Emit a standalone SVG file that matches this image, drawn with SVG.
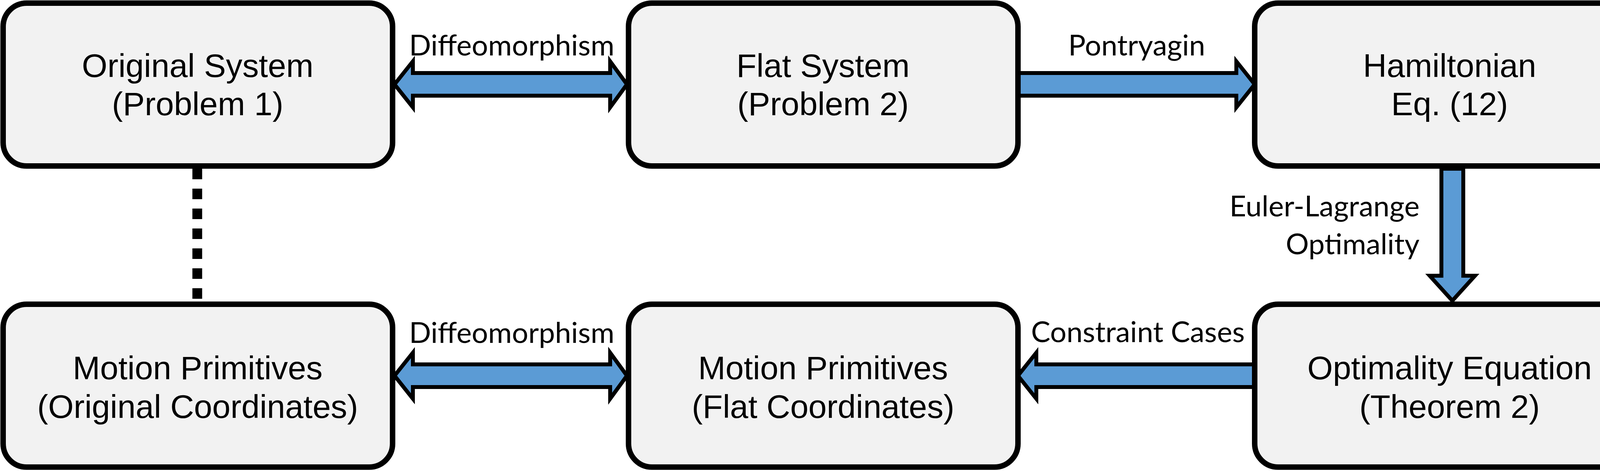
<svg xmlns="http://www.w3.org/2000/svg" width="4225" height="1206" viewBox="0 0 4225 1206">
<style>
.box{fill:#f2f2f2;stroke:#000;stroke-width:14}
.bt{font-family:"Liberation Sans Narrow","Liberation Sans",Arial,sans-serif;font-size:84px;text-anchor:middle;fill:#000}
.lb{font-family:Lato,"Open Sans","Liberation Sans",sans-serif;font-size:74px;fill:#000}
.ar{fill:#5b9bd5;stroke:#000;stroke-width:10;stroke-linejoin:miter}
</style>
<rect width="4225" height="1206" fill="#fff"/>
<g id="connectors">
<line x1="505" y1="432" x2="505" y2="774" stroke="#000" stroke-width="25" stroke-dasharray="27 24"/>
<polygon class="ar" points="1010,216 1057,157 1057,187 1562,187 1562,157 1605,216 1562,275 1562,245 1057,245 1057,275"/>
<polygon class="ar" points="2606,187 3165,187 3165,157 3212,216 3165,275 3165,245 2606,245"/>
<polygon class="ar" points="3690,432 3746,432 3746,706 3776,706 3718,770 3660,706 3690,706"/>
<polygon class="ar" points="1010,962 1057,903 1057,933 1562,933 1562,903 1605,962 1562,1021 1562,991 1057,991 1057,1021"/>
<polygon class="ar" points="3212,933 2653,933 2653,903 2606,962 2653,1021 2653,991 3212,991"/>
<text class="lb" x="1310" y="142" text-anchor="middle">Diffeomorphism</text>
<text class="lb" x="2910" y="142" text-anchor="middle">Pontryagin</text>
<text class="lb" x="3634" y="554" text-anchor="end">Euler-Lagrange</text>
<text class="lb" x="3634" y="651" text-anchor="end">Optimality</text>
<text class="lb" x="1310" y="878" text-anchor="middle">Diffeomorphism</text>
<text class="lb" x="2913" y="876" text-anchor="middle">Constraint Cases</text>
</g>
<g id="n1"><rect class="box" x="8" y="8" width="997" height="417" rx="60"/><text class="bt" x="506" y="197">Original System</text><text class="bt" x="506" y="295">(Problem 1)</text></g>
<g id="n2"><rect class="box" x="1609" y="8" width="997" height="417" rx="60"/><text class="bt" x="2107" y="197">Flat System</text><text class="bt" x="2107" y="295">(Problem 2)</text></g>
<g id="n3"><rect class="box" x="3212" y="8" width="999" height="417" rx="60"/><text class="bt" x="3711" y="197">Hamiltonian</text><text class="bt" x="3711" y="295">Eq. (12)</text></g>
<g id="n4"><rect class="box" x="8" y="779" width="997" height="417" rx="60"/><text class="bt" x="506" y="971">Motion Primitives</text><text class="bt" x="506" y="1070">(Original Coordinates)</text></g>
<g id="n5"><rect class="box" x="1609" y="779" width="997" height="417" rx="60"/><text class="bt" x="2107" y="971">Motion Primitives</text><text class="bt" x="2107" y="1070">(Flat Coordinates)</text></g>
<g id="n6"><rect class="box" x="3212" y="779" width="999" height="417" rx="60"/><text class="bt" x="3711" y="971">Optimality Equation</text><text class="bt" x="3711" y="1070">(Theorem 2)</text></g>
</svg>
